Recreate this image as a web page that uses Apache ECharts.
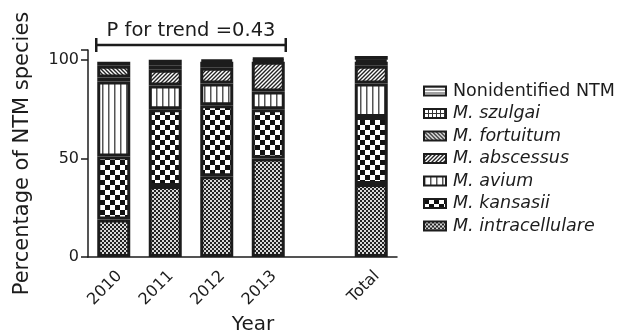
<!DOCTYPE html>
<html>
<head>
<meta charset="utf-8">
<script src="https://cdn.jsdelivr.net/npm/echarts@6/dist/echarts.min.js"></script>
<style>
html,body{margin:0;padding:0;background:#fff;}
#c{width:622px;height:335px;}
</style>
</head>
<body>
<div id="c"></div>
<script>
const categories = ['2010', '2011', '2012', '2013', '', 'Total'];
const intracellulare = [19, 36, 41, 50, null, 37];
const kansasii = [32, 39, 36, 25, null, 34];
const avium = [38, 12, 11, 9, null, 17];
const abscessus = [2, 8, 8, 15, null, 9];
const fortuitum = [6, 2, 3, 1, null, 2];
const szulgai = [0, 3, 0, 0, null, 1];
const nonidentified = [2, 0, 1, 1, null, 2];
const yTicks = [0, 50, 100];
const trendText = 'P for trend =0.43';

const FONT = 'DejaVu Sans';
const INK = '#1c1c1c';

function pat(size, draw, bg) {
  const c = document.createElement('canvas');
  c.width = size; c.height = size;
  const g = c.getContext('2d');
  g.fillStyle = bg || '#fff';
  g.fillRect(0, 0, size, size);
  draw(g, size);
  return { image: c, repeat: 'repeat' };
}
const patterns = {
  intracellulare: pat(4, (g) => { g.fillStyle = '#222'; g.fillRect(0, 0, 2, 2); g.fillRect(2, 2, 2, 2); }, '#d8d8d8'),
  kansasii: pat(10, (g) => { g.fillStyle = '#111'; g.fillRect(0, 0, 5, 5); g.fillRect(5, 5, 5, 5); }),
  avium: pat(6, (g) => { g.fillStyle = '#555'; g.fillRect(0, 0, 1.5, 6); }),
  abscessus: pat(4, (g, s) => {
    g.strokeStyle = '#222'; g.lineWidth = 1.4;
    g.beginPath();
    g.moveTo(-1, s + 1); g.lineTo(s + 1, -1);
    g.moveTo(-1, 1); g.lineTo(1, -1);
    g.moveTo(s - 1, s + 1); g.lineTo(s + 1, s - 1);
    g.stroke();
  }),
  fortuitum: pat(4, (g, s) => {
    g.strokeStyle = '#222'; g.lineWidth = 1.4;
    g.beginPath();
    g.moveTo(-1, -1); g.lineTo(s + 1, s + 1);
    g.moveTo(-1, s - 1); g.lineTo(1, s + 1);
    g.moveTo(s - 1, -1); g.lineTo(s + 1, 1);
    g.stroke();
  }),
  szulgai: pat(4, (g) => { g.fillStyle = '#333'; g.fillRect(0, 0, 4, 1); g.fillRect(0, 0, 1, 4); }),
  nonidentified: pat(3, (g) => { g.fillStyle = '#444'; g.fillRect(0, 0, 3, 1); })
};

const seriesDefs = [
  ['M. intracellulare', intracellulare, patterns.intracellulare],
  ['M. kansasii', kansasii, patterns.kansasii],
  ['M. avium', avium, patterns.avium],
  ['M. abscessus', abscessus, patterns.abscessus],
  ['M. fortuitum', fortuitum, patterns.fortuitum],
  ['M. szulgai', szulgai, patterns.szulgai],
  ['Nonidentified NTM', nonidentified, patterns.nonidentified]
];
const BAR_W = 33;

const chart = echarts.init(document.getElementById('c'), null, { renderer: 'canvas' });
chart.setOption({
  animation: false,
  backgroundColor: '#fff',
  textStyle: { fontFamily: FONT, color: INK },
  grid: { left: 88, right: 225, top: 50, bottom: 78, outerBoundsMode: 'none' },
  legend: {
    orient: 'vertical',
    left: 418,
    top: 77,
    icon: 'rect',
    itemWidth: 22,
    itemHeight: 9,
    itemGap: 4.5,
    data: seriesDefs.map(d => d[0]).reverse(),
    formatter: (n) => n.indexOf('M. ') === 0 ? '{i|' + n + '}' : '{n|' + n + '}',
    textStyle: {
      fontFamily: FONT, fontSize: 17.5, color: INK,
      rich: {
        i: { fontFamily: FONT, fontSize: 17.5, fontStyle: 'italic', color: INK, padding: [0, 0, 0, 2] },
        n: { fontFamily: FONT, fontSize: 17.5, color: INK, padding: [0, 0, 0, 2] }
      }
    }
  },
  xAxis: {
    type: 'category',
    data: categories,
    name: 'Year',
    nameLocation: 'middle',
    nameGap: 58,
    nameTextStyle: { fontFamily: FONT, fontSize: 20, color: INK, padding: [0, 0, 0, 21] },
    axisLine: { lineStyle: { color: INK, width: 1.5 } },
    axisTick: { alignWithLabel: true, length: 7, lineStyle: { color: INK, width: 1.5 } },
    axisLabel: { rotate: 45, fontSize: 16, fontFamily: FONT, color: INK, margin: 11, verticalAlign: 'top' }
  },
  yAxis: {
    type: 'value',
    min: 0,
    max: 105,
    interval: 50,
    name: 'Percentage of NTM species',
    nameLocation: 'middle',
    nameGap: 55,
    nameTextStyle: { fontFamily: FONT, fontSize: 21, color: INK },
    axisLine: { show: true, lineStyle: { color: INK, width: 1.5 } },
    axisTick: { show: true, length: 7, lineStyle: { color: INK, width: 1.5 } },
    axisLabel: {
      fontSize: 16, fontFamily: FONT, color: INK, margin: 9,
      formatter: (v) => yTicks.indexOf(v) >= 0 ? String(v) : ''
    },
    splitLine: { show: false }
  },
  series: seriesDefs.map(([name, vals, color]) => ({
    name: name,
    type: 'bar',
    stack: 'total',
    barWidth: BAR_W,
    data: vals.map(v => (v === 0 || v === null) ? '-' : v),
    itemStyle: { color: color, borderColor: INK, borderWidth: 3 },
    emphasis: { disabled: true }
  }))
});

// P for trend bracket spanning the 2010..2013 bars
const x0 = chart.convertToPixel({ xAxisIndex: 0 }, categories[0]) - BAR_W / 2 - 1;
const x1 = chart.convertToPixel({ xAxisIndex: 0 }, categories[3]) + BAR_W / 2 + 1;
const yb = 45;
chart.setOption({
  graphic: [
    { type: 'line', shape: { x1: x0, y1: yb, x2: x1, y2: yb }, style: { stroke: INK, lineWidth: 2.5 } },
    { type: 'line', shape: { x1: x0, y1: yb - 7, x2: x0, y2: yb + 7 }, style: { stroke: INK, lineWidth: 2.5 } },
    { type: 'line', shape: { x1: x1, y1: yb - 7, x2: x1, y2: yb + 7 }, style: { stroke: INK, lineWidth: 2.5 } },
    {
      type: 'text', x: (x0 + x1) / 2, y: 21,
      style: { text: trendText, font: '19.5px "DejaVu Sans"', fill: INK, textAlign: 'center', textVerticalAlign: 'top' }
    }
  ]
});
</script>
</body>
</html>
